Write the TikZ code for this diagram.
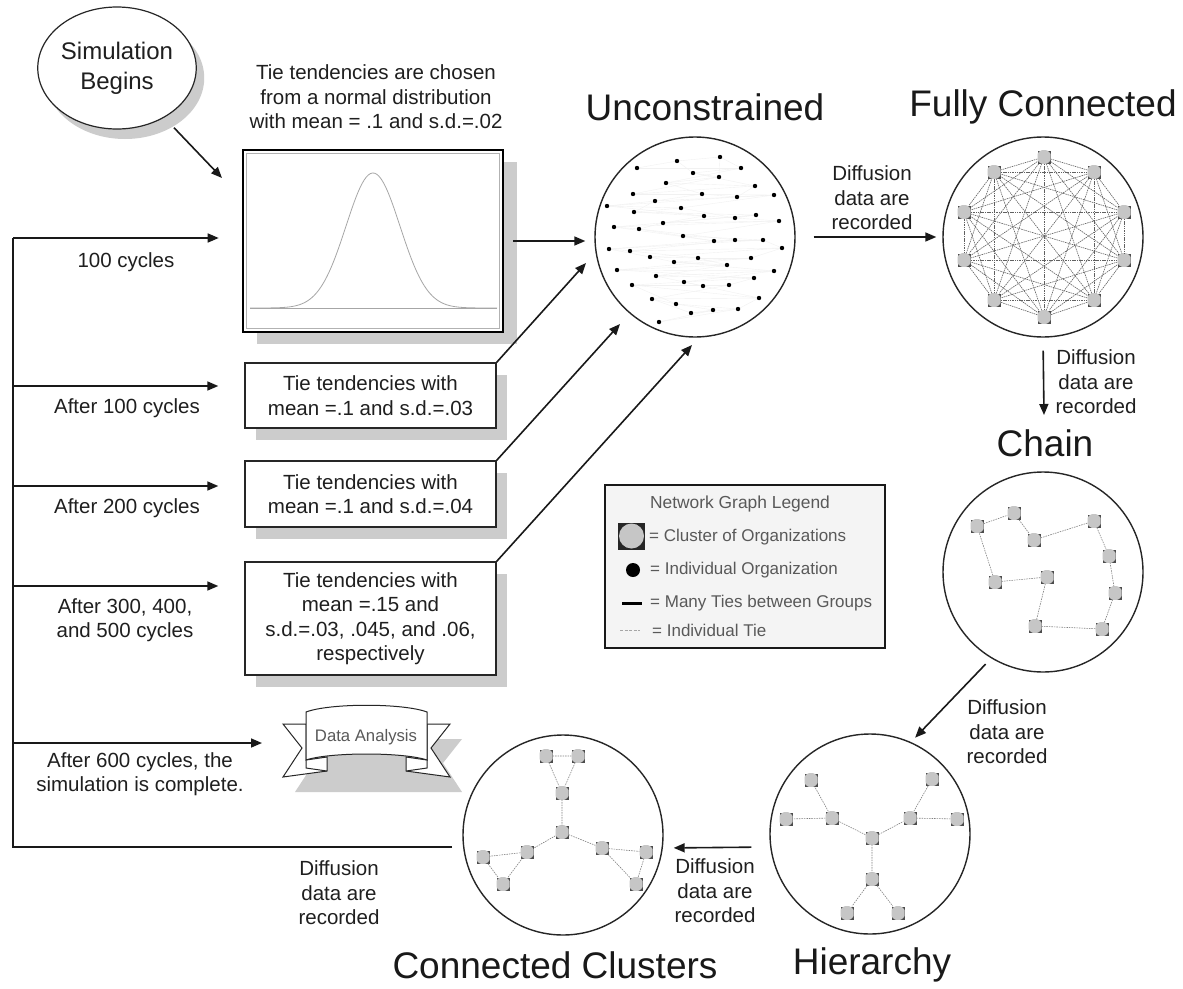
\documentclass[tikz,border=0pt]{standalone}
\usepackage{fontspec}
\setmainfont{Liberation Sans}
\usetikzlibrary{arrows.meta,calc,shapes.geometric,shadows}
\begin{document}
\begin{tikzpicture}[x=1pt,y=-1pt,
  arr/.style={draw=black!90, line width=1.6pt, -{Triangle[length=11pt,width=9pt]}},
  ln/.style={draw=black!90, line width=1.6pt},
  txt/.style={font=\fontsize{20.5}{24.5}\selectfont, align=center, inner sep=0pt, text=black!88},
  ttl/.style={font=\fontsize{37}{40}\selectfont, inner sep=0pt, text=black!90},
  lgt/.style={font=\fontsize{17}{20}\selectfont, inner sep=0pt, text=black!65, anchor=west},
  tbox/.style={draw=black!85, line width=1.4pt, fill=white, minimum width=251pt, inner sep=0pt, align=center,
    font=\fontsize{20.5}{24.5}\selectfont, text=black!88,
    drop shadow={shadow xshift=11pt, shadow yshift=-12pt, fill=gray!40, opacity=1}},
  bigc/.style={circle, draw=black!85, line width=1.4pt, minimum size=200pt, inner sep=0pt},
  cl/.style={rectangle, minimum size=13pt, inner sep=0pt, fill=black!70,
    path picture={\fill[gray!45] (path picture bounding box.center) circle (7.2pt);}},
  tie/.style={draw=black!50, line width=0.6pt, dash pattern=on 1.5pt off 1pt},
  fctie/.style={draw=black!62, line width=0.6pt, dash pattern=on 1.5pt off 0.8pt},
  faint/.style={draw=gray!11, line width=0.4pt},
  rib/.style={draw=black!85, fill=white, line width=1pt},
]
\useasboundingbox (0,0) rectangle (1183,988);
\fill[white] (0,0) rectangle (1183,988);

% ---------- Simulation begins ----------
\node[ellipse, draw=black!85, line width=1.2pt, fill=white, minimum width=136pt, minimum height=122pt,
  inner sep=0pt, align=center, font=\fontsize{24}{30}\selectfont, text=black!88,
  drop shadow={shadow xshift=8pt, shadow yshift=-10pt, fill=gray!40, opacity=1}] (sim) at (117,68) {Simulation\\Begins};

% ---------- curve box ----------
\node[txt] (cbt) at (376,97) {Tie tendencies are chosen\\from a normal distribution\\with mean = .1 and s.d.=.02};
\node[rectangle, draw=black, line width=2.6pt, fill=white, minimum width=260pt, minimum height=182pt, inner sep=0pt,
  drop shadow={shadow xshift=14pt, shadow yshift=-12pt, fill=gray!40, opacity=1}] (cbox) at (373,241) {};
\draw[gray!60, line width=0.7pt] ([shift={(5pt,5pt)}]cbox.south west) rectangle ([shift={(-5pt,-5pt)}]cbox.north east);
\draw[gray!70, line width=0.8pt] (250,308) -- (497,308);
\draw[gray!70, line width=0.8pt] plot[domain=250:497, samples=120, smooth] (\x, {308-135*exp(-((\x-373)/27)^2/2)});
\coordinate (cbtip) at (222,178);
\draw[arr, shorten <=14pt] (sim) -- (cbtip);

% ---------- tie tendency boxes ----------
\node[tbox, minimum height=65pt] (b1) at (370.5,395.5) {Tie tendencies with\\mean =.1 and s.d.=.03};
\node[tbox, minimum height=66pt] (b2) at (370.5,494) {Tie tendencies with\\mean =.1 and s.d.=.04};
\node[tbox, minimum height=113pt] (b3) at (370.5,618.5) {Tie tendencies with\\mean =.15 and\\s.d.=.03, .045, and .06,\\respectively};

% ---------- Data analysis ribbon ----------
\begin{scope}[shift={(12,15)}]
 \fill[gray!40] (283,724) -- (306,724) -- (306,712) .. controls (330,703) and (403,703) .. (427,712) -- (427,724) -- (450,724) -- (431,748) -- (450,777) -- (283,777) -- (302,748) -- cycle;
\end{scope}
\draw[rib] (306,724) -- (283,724) -- (302,748) -- (283,777) -- (327,771) -- (327,757) -- (306,760) -- cycle;
\draw[rib] (427,724) -- (450,724) -- (431,748) -- (450,777) -- (406,771) -- (406,757) -- (427,760) -- cycle;
\draw[rib] (306,760) -- (306,768) -- (327,771);
\draw[rib] (427,760) -- (427,768) -- (406,771);
\draw[rib] (306,712) .. controls (330,703) and (403,703) .. (427,712) -- (427,760) .. controls (403,752) and (330,752) .. (306,760) -- cycle;
\node[font=\fontsize{16.7}{20}\selectfont, text=black!65, inner sep=0pt] (da) at (366,737) {Data Analysis};
\coordinate (dal) at (283,743);

% ---------- Unconstrained ----------
\node[ttl] (unct) at (705,107) {Unconstrained};
\node[bigc] (unc) at (695,237) {};
\foreach \x/\y [count=\k] in {637/168,677/161,720/157,741/168,693/173,719/177,666/183,755/186,
  633/194,702/194,737/197,774/195,655/201,607/206,681/208,634/212,704/216,735/218,
  756/215,663/223,779/221,614/227,639/229,683/236,714/241,735/240,763/240,609/249,
  630/251,782/248,650/257,698/258,751/258,674/262,727/265,617/270,774/271,656/276,
  754/278,684/282,703/286,729/285,632/285,759/298,652/299,676/304,738/309,691/313,
  713/310,659/322}
  \coordinate (d\k) at (\x,\y);
\foreach \i in {1,...,49} {\pgfmathtruncatemacro\j{\i+1}\draw[faint] (d\i) -- (d\j);}
\foreach \i in {1,...,47} {\pgfmathtruncatemacro\j{\i+3}\draw[faint] (d\i) -- (d\j);}
\foreach \i in {1,...,50} \fill[black] (d\i) circle (2.2pt);

\draw[arr, shorten <=9pt, shorten >=9pt] (cbox.east) -- (cbox.east -| unc.west);
\coordinate (t1) at (586,263);
\coordinate (t2) at (620,324);
\coordinate (t3) at (692,345);
\draw[arr] (b1.north east) -- (t1);
\draw[arr] (b2.north east) -- (t2);
\draw[arr] (b3.north east) -- (t3);

% ---------- Fully connected ----------
\node[ttl] (fct) at (1043,107) {Fully Connected};
\node[bigc] (fc) at (1043,237) {};
\foreach \i/\dx/\dy in {1/0/-80, 2/50/-65, 3/80/-25, 4/80/23, 5/50/63, 6/0/80, 7/-50/63, 8/-80/23, 9/-80/-25, 10/-50/-65}
  \node[cl] (f\i) at (1044+\dx,237+\dy) {};
\foreach \i in {1,...,9} {\pgfmathtruncatemacro\ii{\i+1}\foreach \j in {\ii,...,10} \draw[fctie] (f\i) -- (f\j);}
\node[txt] (l1) at (872,198) {Diffusion\\data are\\recorded};
\draw[arr, shorten <=18pt, shorten >=6pt] (unc.east) -- (fc.west);

% ---------- Chain ----------
\node[ttl] (cht) at (1045,443) {Chain};
\node[bigc] (chn) at (1043,572) {};
\foreach \n/\x/\y in {a/977/526, b/1014/513, c/1034/540, d/1094/521, e/1109/556,
  f/1115/593, g/1102/629, h/1035/626, i/1047/577, j/995/582}
  \node[cl] (q\n) at (\x,\y) {};
\draw[tie] (qa) -- (qb) (qb) -- (qc) (qc) -- (qd) (qd) -- (qe) (qe) -- (qf) (qf) -- (qg) (qg) -- (qh) (qh) -- (qi) (qi) -- (qj) (qj) -- (qa);
\coordinate (chtip) at (1044,415);
\draw[arr, shorten <=13pt] (fc.south) -- (chtip);
\node[txt] (l2) at (1096,382) {Diffusion\\data are\\recorded};

% ---------- Hierarchy ----------
\node[ttl] (hit) at (872,965) {Hierarchy};
\node[bigc] (hi) at (870,834) {};
\node[cl] (h0) at (872,838) {};
\node[cl] (hlm) at (832,818) {};
\node[cl] (hlt) at (811,780) {};
\node[cl] (hlf) at (786,819) {};
\node[cl] (hrm) at (910,818) {};
\node[cl] (hrt) at (932,779) {};
\node[cl] (hrf) at (957,819) {};
\node[cl] (hbm) at (872,879) {};
\node[cl] (hbl) at (847,913) {};
\node[cl] (hbr) at (898,913) {};
\draw[tie] (h0) -- (hlm) (hlm) -- (hlt) (hlm) -- (hlf) (h0) -- (hrm) (hrm) -- (hrt) (hrm) -- (hrf)
  (h0) -- (hbm) (hbm) -- (hbl) (hbm) -- (hbr);
\draw[arr, shorten <=8pt, shorten >=6pt] (chn.239) -- (hi.66);
\node[txt] (l3) at (1007,732) {Diffusion\\data are\\recorded};

% ---------- Connected clusters ----------
\node[ttl] (cct) at (555,965) {Connected Clusters};
\node[bigc] (ccl) at (563,835) {};
\node[cl] (k1) at (546,756) {};
\node[cl] (k2) at (578,756) {};
\node[cl] (k3) at (562,793) {};
\node[cl] (k0) at (562,832) {};
\node[cl] (k4) at (527,852) {};
\node[cl] (k5) at (483,857) {};
\node[cl] (k6) at (503,884) {};
\node[cl] (k7) at (602,848) {};
\node[cl] (k8) at (646,852) {};
\node[cl] (k9) at (636,884) {};
\draw[tie] (k1) -- (k2) (k1) -- (k3) (k2) -- (k3) (k3) -- (k0) (k0) -- (k4) (k4) -- (k5) (k5) -- (k6) (k6) -- (k4)
  (k0) -- (k7) (k7) -- (k8) (k8) -- (k9) (k9) -- (k7);
\draw[arr, shorten <=18pt, shorten >=10pt] ([yshift=-13pt]hi.west) -- ([yshift=-13pt]ccl.east);
\node[txt] (l4) at (715,891) {Diffusion\\data are\\recorded};

% ---------- feedback loop ----------
\coordinate (cclw) at (452,847);
\coordinate (lb) at (13,847);
\coordinate (lt) at (13,238);
\draw[ln] (cclw) -- (lb) -- (lt);
\node[txt] (l5) at (339,893) {Diffusion\\data are\\recorded};
\coordinate (a1) at (13,386);
\coordinate (a2) at (13,486);
\coordinate (a3) at (13,586);
\coordinate (a4) at (13,743);
\draw[arr, shorten >=23pt] (lt) -- (lt -| cbox.west);
\draw[arr, shorten >=26pt] (a1) -- (a1 -| b1.west);
\draw[arr, shorten >=26pt] (a2) -- (a2 -| b2.west);
\draw[arr, shorten >=26pt] (a3) -- (a3 -| b3.west);
\draw[arr, shorten >=21pt] (a4) -- (dal);
\node[txt] (s0) at (126,262) {100 cycles};
\node[txt] (s1) at (127,408) {After 100 cycles};
\node[txt] (s2) at (127,508) {After 200 cycles};
\node[txt] (s3) at (125,620) {After 300, 400,\\and 500 cycles};
\node[txt] (s4) at (140,774) {After 600 cycles, the\\simulation is complete.};

% ---------- Legend ----------
\node[rectangle, draw=black!90, line width=1.6pt, fill=gray!9, minimum width=280pt, minimum height=163pt, inner sep=0pt] (leg) at (745,566.5) {};
\node[font=\fontsize{17.4}{20}\selectfont, text=black!65, inner sep=0pt] (legt) at (740,504) {Network Graph Legend};
\node[rectangle, minimum size=27pt, inner sep=0pt, fill=black!85,
  path picture={\fill[gray!45] (path picture bounding box.center) circle (12.5pt);}] (licon) at (631.5,536) {};
\node[lgt] (lg1) at (649,537) {= Cluster of Organizations};
\fill[black] (633,570) circle (7pt);
\node[lgt] (lg2) at (650,570) {= Individual Organization};
\draw[black, line width=3pt] (622,603) -- (642,603);
\node[lgt] (lg3) at (650,603) {= Many Ties between Groups};
\draw[gray!70, line width=0.8pt, dash pattern=on 3pt off 1.5pt] (620,630) -- (640,630);
\node[lgt] (lg4) at (652,630) {= Individual Tie};
\end{tikzpicture}
\end{document}
